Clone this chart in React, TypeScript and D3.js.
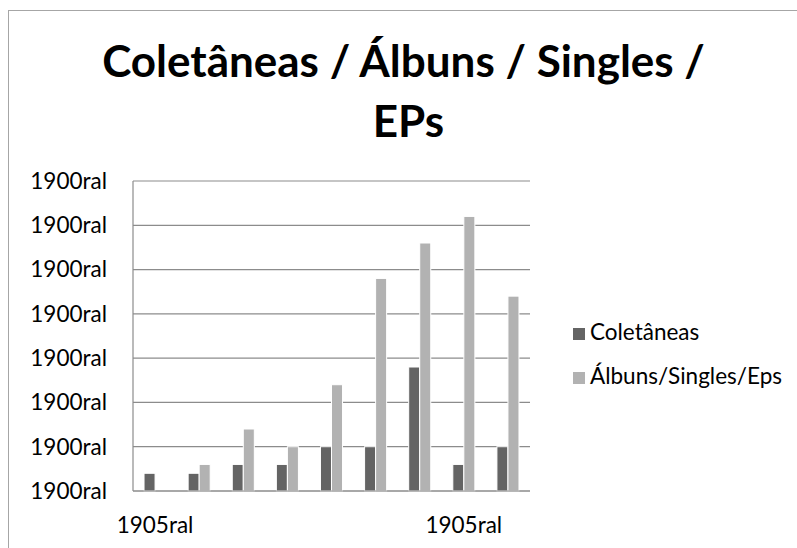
import React from "react";
import * as d3 from "d3";

const categories = ["c1", "c2", "c3", "c4", "c5", "c6", "c7", "c8", "c9"];
const xTickLabels = ["1905ral", "", "", "", "", "", "", "1905ral", ""];
const seriesNames = ["Coletâneas", "Álbuns/Singles/Eps"];
const coletaneas = [2, 2, 3, 3, 5, 5, 14, 3, 5];
const albuns = [0, 3, 7, 5, 12, 24, 28, 31, 22];
const yTickValues = [0, 5, 10, 15, 20, 25, 30, 35];
const yTickLabels = ["1900ral", "1900ral", "1900ral", "1900ral", "1900ral", "1900ral", "1900ral", "1900ral"];
const colors = ["#646464", "#b2b2b2"];
const titleLines = ["Coletâneas / Álbuns / Singles /", "EPs"];

export default function App() {
  const W = 797, H = 548;
  const left = 133, right = 530, top = 181, bottom = 491;
  const x = d3.scaleBand<string>().domain(categories).range([left, right]).paddingInner(0.5).paddingOuter(0.25);
  const x1 = d3.scaleBand<string>().domain(["a", "b"]).range([0, x.bandwidth()]);
  const y = d3.scaleLinear().domain([0, 35]).range([bottom, top]);
  const series = [coletaneas, albuns];
  const font = "Lato, 'Open Sans', sans-serif";
  const titleX = [403.5, 408.5];
  const titleY = [77, 137];
  return (
    <svg width={W} height={H} style={{ position: "absolute", left: 0, top: 0, background: "#fff" }} fontFamily={font}>
      <rect x={8.5} y={10.5} width={W + 20} height={H + 20} fill="#fff" stroke="#a6a6a6" strokeWidth={1} />
      {titleLines.map((t, i) => (
        <text key={i} x={titleX[i]} y={titleY[i]} textAnchor="middle" fontSize={44} fontWeight="bold" fill="#000">{t}</text>
      ))}
      {yTickValues.map((v, i) => (
        <g key={i}>
          <line x1={left} x2={right} y1={y(v)} y2={y(v)} stroke="#8c8c8c" strokeWidth={1.2} />
          <text x={107} y={y(v)} dy="0.35em" textAnchor="end" fontSize={22.5} fill="#000">{yTickLabels[i]}</text>
        </g>
      ))}
      <line x1={left} x2={left} y1={top} y2={bottom} stroke="#8c8c8c" strokeWidth={1.2} />
      {categories.map((c, i) => (
        <g key={c}>
          {series.map((s, j) => (
            s[i] > 0 ? (
              <rect key={j} x={(x(c) as number) + (x1(j === 0 ? "a" : "b") as number)} y={y(s[i])}
                width={x1.bandwidth()} height={bottom - y(s[i])} fill={colors[j]} stroke="#fff" strokeWidth={1} />
            ) : null
          ))}
          {xTickLabels[i] ? (
            <text x={(x(c) as number) + x.bandwidth() / 2} y={533} textAnchor="middle" fontSize={22.5} fill="#000">{xTickLabels[i]}</text>
          ) : null}
        </g>
      ))}
      <line x1={left} x2={right} y1={bottom} y2={bottom} stroke="#8c8c8c" strokeWidth={1.2} />
      {seriesNames.map((n, i) => (
        <g key={n}>
          <rect x={573} y={328 + i * 44} width={12} height={12} fill={colors[i]} />
          <text x={590} y={340 + i * 44} fontSize={22.5} fill="#000">{n}</text>
        </g>
      ))}
    </svg>
  );
}
